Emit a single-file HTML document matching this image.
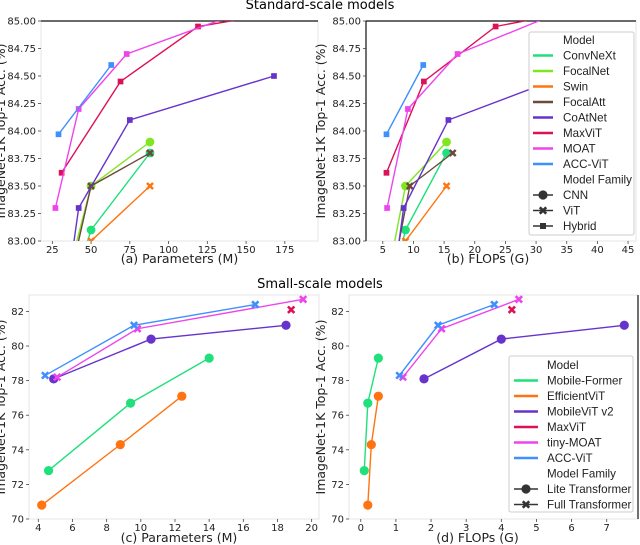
<!DOCTYPE html>
<html><head><meta charset="utf-8"><style>
html,body{margin:0;padding:0;background:#fff;}
svg{display:block;font-family:"DejaVu Sans","Liberation Sans",sans-serif;}
svg text.lg{font-family:"Liberation Sans",sans-serif;font-size:11.6px;}
</style></head><body>
<svg id="fig" width="640" height="545" viewBox="0 0 640 545" xmlns="http://www.w3.org/2000/svg">
<text x="320" y="9" font-size="13" text-anchor="middle">Standard-scale models</text>
<text x="320" y="288" font-size="13" text-anchor="middle">Small-scale models</text>
</svg>
<script>
// ---- Standard-scale data ----
const stdModels = ["ConvNeXt","FocalNet","Swin","FocalAtt","CoAtNet","MaxViT","MOAT","ACC-ViT"];
const stdColors = ["#1fe07a","#7fe620","#ff7410","#6b4a3c","#6633cc","#dd1155","#ee44ee","#3f8fff"];
const stdMarkers = ["circle","circle","x","x","square","square","square","square"];
const stdParams = [[28,50,88],[28,50,88],[28,50,88],[29,50,88],[25,42,75,168],[31,69,119,212],[27,42,73,190],[29,63]];
const stdFlops = [[4.5,8.7,15.4],[4.5,8.7,15.4],[4.5,8.7,15.4],[4.9,9.4,16.4],[4.2,8.4,15.7,34.7],[5.6,11.7,23.4,43.9],[5.7,9.1,17.2,43.6],[5.6,11.6]];
const stdAcc = [[82.1,83.1,83.8],[82.3,83.5,83.9],[81.3,83.0,83.5],[82.2,83.5,83.8],[81.6,83.3,84.1,84.5],[83.62,84.45,84.95,85.17],[83.3,84.2,84.7,85.3],[83.97,84.6]];
const stdYTicks = [83.00,83.25,83.50,83.75,84.00,84.25,84.50,84.75,85.00];
const paramTicks = [25,50,75,100,125,150,175];
const flopTicks = [5,10,15,20,25,30,35,40,45];
// ---- Small-scale data ----
const smlModels = ["Mobile-Former","EfficientViT","MobileViT v2","MaxViT","tiny-MOAT","ACC-ViT"];
const smlColors = ["#1fe07a","#ff7410","#6633cc","#dd1155","#ee44ee","#3f8fff"];
const smlMarkers = ["circle","circle","circle","x","x","x"];
const smlParams = [[4.6,9.4,14.0],[4.2,8.8,12.4],[4.9,10.6,18.5],[18.8],[5.1,9.8,19.5],[4.4,9.6,16.7]];
const smlFlops = [[0.1,0.2,0.5],[0.2,0.3,0.5],[1.8,4.0,7.5],[4.3],[1.2,2.3,4.5],[1.1,2.2,3.8]];
const smlAcc = [[72.8,76.7,79.3],[70.8,74.3,77.1],[78.1,80.4,81.2],[82.1],[78.2,81.0,82.7],[78.3,81.2,82.4]];
const smlYTicks = [70,72,74,76,78,80,82];
const smlParamTicks = [4,6,8,10,12,14,16,18,20];
const smlFlopTicks = [0,1,2,3,4,5,6,7];

const NS="http://www.w3.org/2000/svg";
const svg=document.getElementById('fig');
function mk(tag,attrs,parent){const e=document.createElementNS(NS,tag);for(const k in attrs)e.setAttribute(k,attrs[k]);(parent||svg).appendChild(e);return e;}
let clipId=0;
function marker(g,type,x,y,color,s){
  let m;
  if(type==="circle"){m=mk('circle',{cx:x,cy:y,r:4.6*s,fill:color},g);}
  else if(type==="square"){m=mk('rect',{x:x-3*s,y:y-3*s,width:6*s,height:6*s,fill:color},g);}
  else{const d=3.2*s;m=mk('path',{d:`M${x-d},${y-d}L${x+d},${y+d}M${x-d},${y+d}L${x+d},${y-d}`,stroke:color,'stroke-width':2.6*s,fill:'none'},g);}
  return m;
}
function panel(o){
  const {name,L,R,T,B,xmin,xmax,ymin,ymax,xticks,yticks,yfmt,xlabel,xs,ys,colors,markers,models}=o;
  const X=v=>L+(v-xmin)/(xmax-xmin)*(R-L);
  const Y=v=>B-(v-ymin)/(ymax-ymin)*(B-T);
  const g=mk('g',{});
  
  
  const frame=mk('rect',{x:L,y:T,width:R-L,height:B-T,fill:'#fff',stroke:'#e4e4e4','stroke-width':1},g);
  
  
  if(o.darkTop){const l=mk('line',{x1:L,y1:T,x2:R,y2:T,stroke:'#111','stroke-width':1.2},g);}
  if(o.darkLeft){const l=mk('line',{x1:L,y1:T,x2:L,y2:B,stroke:'#111','stroke-width':1.2},g);}
  if(o.darkRight){const l=mk('line',{x1:R,y1:T,x2:R,y2:B,stroke:'#111','stroke-width':1.2},g);}
  yticks.forEach(v=>{const y=Y(v);
    const t=mk('text',{x:L-5,y:y+3.5,'font-size':10,'text-anchor':'end',fill:'#222'},g);t.textContent=yfmt(v);
    
    mk('line',{x1:L-3,y1:y,x2:L,y2:y,stroke:'#444','stroke-width':0.8},g);});
  xticks.forEach(v=>{const x=X(v);
    const t=mk('text',{x:x,y:B+o.tkOff,'font-size':10,'text-anchor':'middle',fill:'#222'},g);t.textContent=v;
    
    mk('line',{x1:x,y1:B,x2:x,y2:B+3,stroke:'#444','stroke-width':0.8},g);});
  const xl=mk('text',{x:(L+R)/2+o.xlOff,y:B+o.xlY,'font-size':12.5,'text-anchor':'middle',fill:'#222'},g);xl.textContent=xlabel;
  
  const yx=L-o.ylDist, yy=(T+B)/2;
  const yl=mk('text',{x:yx,y:yy,'font-size':12.5,'text-anchor':'middle',fill:'#222',transform:`rotate(-90 ${yx} ${yy})`},g);yl.textContent="ImageNet-1K Top-1 Acc. (%)";
  
  const cid='c'+(clipId++);
  const cp=mk('clipPath',{id:cid},g);mk('rect',{x:L,y:T,width:R-L,height:B-T},cp);
  const dg=mk('g',{'clip-path':`url(#${cid})`},g);
  const ms=o.ms||1;
  models.forEach((m,i)=>{
    const pts=xs[i].map((v,j)=>[X(v),Y(ys[i][j])]);
    const sg=mk('g',{},dg);
    
    
    if(pts.length>1){mk('polyline',{points:pts.map(p=>p.join(',')).join(' '),fill:'none',stroke:colors[i],'stroke-width':1.4},sg);}
    pts.forEach(p=>{const mm=marker(sg,markers[i],p[0],p[1],colors[i],ms);
      
      });
  });
  return {X,Y};
}
function legend(o){
  const g=mk('g',{});
  
  
  mk('rect',{x:o.x,y:o.y,width:o.w,height:o.h,fill:'#fff',stroke:'#ccc','stroke-width':1,rx:2},g);
  o.items.forEach((it,i)=>{const cy=o.y0+i*o.dy;
    const e=mk('g',{},g);
    
    
    if(it.color){mk('line',{x1:o.lx1,y1:cy,x2:o.lx2,y2:cy,stroke:it.color,'stroke-width':2.4},e);}
    if(it.marker){mk('line',{x1:o.lx1,y1:cy,x2:o.lx2,y2:cy,stroke:'#333','stroke-width':1.6},e);marker(e,it.marker,(o.lx1+o.lx2)/2,cy,'#333',1);}
    const t=mk('text',{x:o.tx,y:cy+4.2,fill:'#222','class':'lg'},e);t.textContent=it.label;});
}
const f2=v=>v.toFixed(2), f0=v=>String(v);
panel({name:'panel-a-params',L:41,R:318,T:21,B:241,xmin:17.7,xmax:196.4,ymin:83,ymax:85,xticks:paramTicks,yticks:stdYTicks,yfmt:f2,xlabel:'(a) Parameters (M)',xlOff:0,ylDist:36,tkOff:12,xlY:22,xs:stdParams,ys:stdAcc,colors:stdColors,markers:stdMarkers,models:stdModels,darkTop:true,ms:0.95});
panel({name:'panel-b-flops',L:366,R:636,T:21,B:241,xmin:2.26,xmax:46.3,ymin:83,ymax:85,xticks:flopTicks,yticks:stdYTicks,yfmt:f2,xlabel:'(b) FLOPs (G)',xlOff:-13,ylDist:41,tkOff:12,xlY:22,xs:stdFlops,ys:stdAcc,colors:stdColors,markers:stdMarkers,models:stdModels,darkTop:true,darkLeft:true,ms:0.95});
panel({name:'panel-c-params',L:29,R:319,T:295,B:519,xmin:3.456,xmax:20.43,ymin:70,ymax:82.95,xticks:smlParamTicks,yticks:smlYTicks,yfmt:f0,xlabel:'(c) Parameters (M)',xlOff:5,ylDist:24,tkOff:12,xlY:23,xs:smlParams,ys:smlAcc,colors:smlColors,markers:smlMarkers,models:smlModels});
panel({name:'panel-d-flops',L:349,R:638,T:295,B:519,xmin:-0.335,xmax:7.89,ymin:70,ymax:82.95,xticks:smlFlopTicks,yticks:smlYTicks,yfmt:f0,xlabel:'(d) FLOPs (G)',xlOff:-16,ylDist:24,tkOff:12,xlY:23,xs:smlFlops,ys:smlAcc,colors:smlColors,markers:smlMarkers,models:smlModels,darkRight:true});
legend({name:'legend-standard',x:529,y:32,w:105,h:203,y0:40,dy:15.5,lx1:533,lx2:553,tx:563,
  items:[{label:'Model'}].concat(stdModels.map((m,i)=>({label:m,color:stdColors[i]}))).concat([{label:'Model Family'},{label:'CNN',marker:'circle'},{label:'ViT',marker:'x'},{label:'Hybrid',marker:'square'}])});
legend({name:'legend-small',x:509,y:356,w:124,h:156,y0:365,dy:15.5,lx1:514,lx2:538,tx:547,
  items:[{label:'Model'}].concat(smlModels.map((m,i)=>({label:m,color:smlColors[i]}))).concat([{label:'Model Family'},{label:'Lite Transformer',marker:'circle'},{label:'Full Transformer',marker:'x'}])});
</script>
</body></html>
